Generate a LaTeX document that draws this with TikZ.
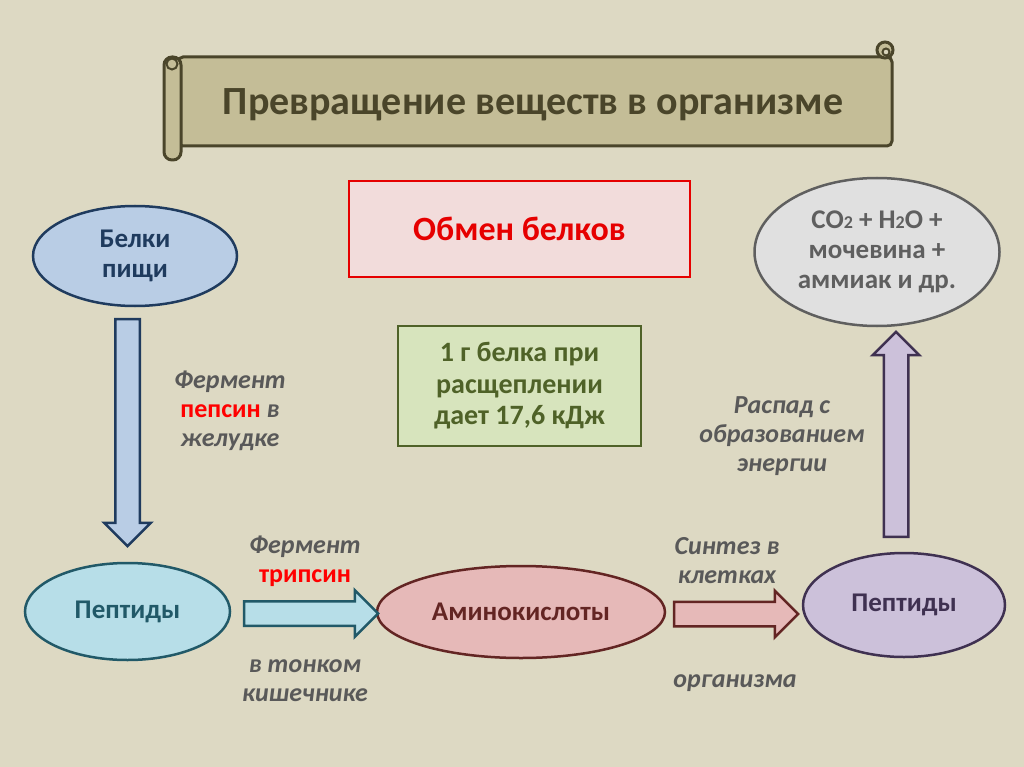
\documentclass[tikz,border=0pt]{standalone}
\usepackage{fontspec}
\setmainfont{Carlito}
\usetikzlibrary{shapes.geometric,shapes.arrows,positioning}

\definecolor{bgtan}{HTML}{DDD9C3}
\definecolor{scrollfill}{HTML}{C4BD97}
\definecolor{scrollink}{HTML}{4A452A}
\definecolor{bluefill}{HTML}{B9CDE5}
\definecolor{blueink}{HTML}{1F3B5E}
\definecolor{aquafill}{HTML}{B7DEE8}
\definecolor{aquaink}{HTML}{215968}
\definecolor{rosefill}{HTML}{E6B9B8}
\definecolor{roseink}{HTML}{632523}
\definecolor{lilacfill}{HTML}{CCC1DA}
\definecolor{lilacink}{HTML}{3F3151}
\definecolor{greyfill}{HTML}{E0E0E0}
\definecolor{greyink}{HTML}{5F5F5F}
\definecolor{pinkfill}{HTML}{F2DCDB}
\definecolor{boxred}{HTML}{E60000}
\definecolor{greenfill}{HTML}{D7E4BD}
\definecolor{greenink}{HTML}{4F6228}
\definecolor{notegrey}{HTML}{595959}

\begin{document}
\begin{tikzpicture}[x=1pt, y=-1pt,
    oval/.style = {ellipse, line width=2.5pt, inner sep=0pt, align=center, font=\bfseries\fontsize{27}{30}\selectfont},
    infobox/.style = {rectangle, line width=2.5pt, inner sep=0pt, align=center, font=\bfseries\fontsize{28}{31.5}\selectfont},
    blockarrow/.style = {single arrow, line width=2.5pt, inner sep=11pt, single arrow head extend=11pt, single arrow tip angle=90},
    note/.style = {align=center, text=notegrey, font=\bfseries\itshape\fontsize{26}{29}\selectfont}
]
    % background
    \fill[bgtan] (0,0) rectangle (1024,767);
    \useasboundingbox (0,0) rectangle (1024,767);

    % title scroll
    \draw[scrollink, line width=3pt, fill=scrollfill, rounded corners=5pt] (178,57) -- (892,57) -- (892,146) -- (178,146) -- cycle;
    \draw[scrollink, line width=3pt, fill=scrollfill] (885,50) circle (8);
    \draw[scrollink, line width=2pt, fill=bgtan!80!scrollfill] (886,52) circle (3.5);
    \draw[scrollink, line width=3pt, fill=scrollfill, rounded corners=8pt] (164,57) rectangle (181,160);
    \draw[scrollink, line width=2pt, fill=scrollfill] (172,64) circle (5.5);
    \node[font=\bfseries\fontsize{40}{44}\selectfont, text=scrollink, anchor=base] (title) at (533,115) {Превращение веществ в организме};

    % boxes in the middle
    \node[infobox, draw=boxred, fill=pinkfill, text=boxred, minimum width=341pt, minimum height=96pt, font=\bfseries\fontsize{34}{38}\selectfont] (exchange) at (519.5,229) {Обмен белков};
    \node[infobox, draw=greenink, fill=greenfill, text=greenink, minimum width=243pt, minimum height=120pt] (energy) at (519.5,386) {1 г белка при\\расщеплении\\дает 17,6 кДж};

    % ovals
    \node[oval, draw=blueink, fill=bluefill, text=blueink, minimum width=204pt, minimum height=100pt] (food) at (135,256) {Белки\\пищи};
    \node[oval, draw=aquaink, fill=aquafill, text=aquaink, minimum width=205pt, minimum height=97pt] (peptL) at (127.5,611.5) {Пептиды};
    \node[oval, draw=roseink, fill=rosefill, text=roseink, minimum width=288pt, minimum height=92pt] (amino) at (521,612) {Аминокислоты};
    \node[oval, draw=lilacink, fill=lilacfill, text=lilacink, minimum width=202pt, minimum height=104pt] (peptR) at (904,605) {Пептиды};
    \node[oval, draw=greyink, fill=greyfill, text=greyink, minimum width=245pt, minimum height=148pt] (products) at (877,252) {CO{\fontsize{18}{18}\selectfont 2} + H{\fontsize{18}{18}\selectfont 2}O +\\мочевина +\\аммиак и др.};

    % block arrows
    \node[blockarrow, draw=blueink, fill=bluefill, minimum height=227pt, shape border rotate=270] (arrPepsin) at (127.5,426.5) {};
    \node[blockarrow, draw=aquaink, fill=aquafill, minimum height=134pt] (arrTrypsin) at (305,613.5) {};
    \node[blockarrow, draw=roseink, fill=rosefill, minimum height=124pt] (arrSynth) at (730,614) {};
    \node[blockarrow, draw=lilacink, fill=lilacfill, minimum height=205pt, shape border rotate=90] (arrDecay) at (896,440.5) {};

    % arrow labels
    \node[note] (lblPepsin) at (230,411) {Фермент\\{\upshape\color{red}пепсин} в\\желудке};
    \node[note] (lblTrypsinA) at (305,561) {Фермент\\{\upshape\color{red}трипсин}};
    \node[note] (lblTrypsinB) at (305,681) {в тонком\\кишечнике};
    \node[note] (lblSynthA) at (727,561) {Синтез в\\клетках};
    \node[note] (lblSynthB) at (735,683) {организма};
    \node[note] (lblDecay) at (782,436) {Распад с\\образованием\\энергии};
\end{tikzpicture}
\end{document}
